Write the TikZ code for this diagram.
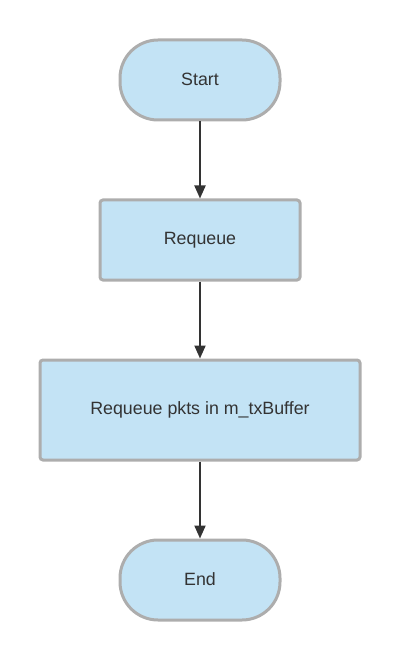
\documentclass[tikz,border=0pt]{standalone}
\usepackage{fontspec}
\setmainfont{Liberation Sans}
\usetikzlibrary{arrows.meta}
\definecolor{boxfill}{HTML}{C3E3F5}
\definecolor{boxline}{HTML}{ADADAD}
\definecolor{txt}{HTML}{333333}
\begin{document}
\begin{tikzpicture}[x=1pt,y=-1pt,
  base/.style={draw=boxline, fill=boxfill, line width=3pt, text=txt,
    font=\fontsize{17.8}{20}\selectfont, inner sep=0pt, anchor=center},
  term/.style={base, minimum width=160pt, minimum height=80pt, rounded corners=38pt},
  proc/.style={base, rounded corners=3pt},
  conn/.style={draw=txt, line width=2pt, -{Triangle[length=13pt,width=11pt]}}]
\useasboundingbox (0,0) rectangle (400,660);
\node[term] (start) at (200,80) {\raisebox{1.5pt}{Start}};
\node[proc, minimum width=200pt, minimum height=80pt] (rq) at (200,240) {\raisebox{1.5pt}{Requeue}};
\node[proc, minimum width=320pt, minimum height=100pt] (rqp) at (200,410) {\raisebox{1.5pt}{Requeue pkts in m\_txBuffer}};
\node[term] (end) at (200,580) {\raisebox{1.5pt}{End}};
\draw[conn] (start) -- (rq);
\draw[conn] (rq) -- (rqp);
\draw[conn] (rqp) -- (end);
\end{tikzpicture}
\end{document}
